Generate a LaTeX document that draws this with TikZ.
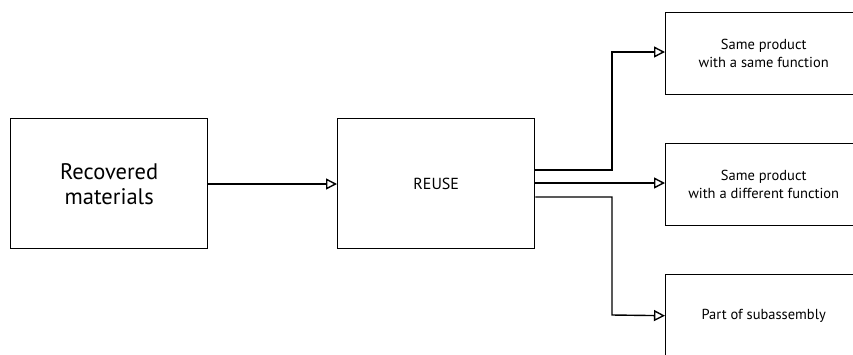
\documentclass[tikz,border=0pt]{standalone}
\usepackage{fontspec}
\setmainfont{PT Sans}
\usetikzlibrary{arrows.meta}
\begin{document}
\begin{tikzpicture}[x=1pt,y=-1pt,
  box/.style={draw, line width=1.4pt, inner sep=0pt, align=center, anchor=north west},
  flow/.style={line width=1.4pt, -{Triangle[open, length=11pt, width=11pt, line width=1.4pt]}},
  big/.style={font=\fontsize{22.5}{25}\selectfont},
  mid/.style={font=\fontsize{16}{19}\selectfont},
  small/.style={font=\fontsize{14.5}{18}\selectfont}]
\useasboundingbox (0,0) rectangle (853,354);
\clip (0,0) rectangle (853,354);
% source and central blocks
\node[box, big, minimum width=197pt, minimum height=130pt] (rec) at (10,118) {Recovered\\materials};
\node[box, mid, minimum width=197pt, minimum height=130pt] (reuse) at (337,118) {REUSE};
% outcome blocks, running past the right margin
\node[box, small, minimum width=196pt, minimum height=82pt] (same) at (665,12) {Same product\\with a same function};
\node[box, small, minimum width=196pt, minimum height=82pt] (diff) at (665,143) {Same product\\with a different function};
\node[box, small, minimum width=196pt, minimum height=82pt] (part) at (665,274) {Part of subassembly};
% connectors
\draw[flow] (rec.east |- 0,184) -- (reuse.west |- 0,184);
\draw[flow] (reuse.east |- 0,170) -| (612,52) -- (same.west |- 0,52);
\draw[flow] (reuse.east |- 0,183) -- (diff.west |- 0,183);
\draw[flow] (reuse.east |- 0,197) -| (612,315) -- (part.west);
\end{tikzpicture}
\end{document}
